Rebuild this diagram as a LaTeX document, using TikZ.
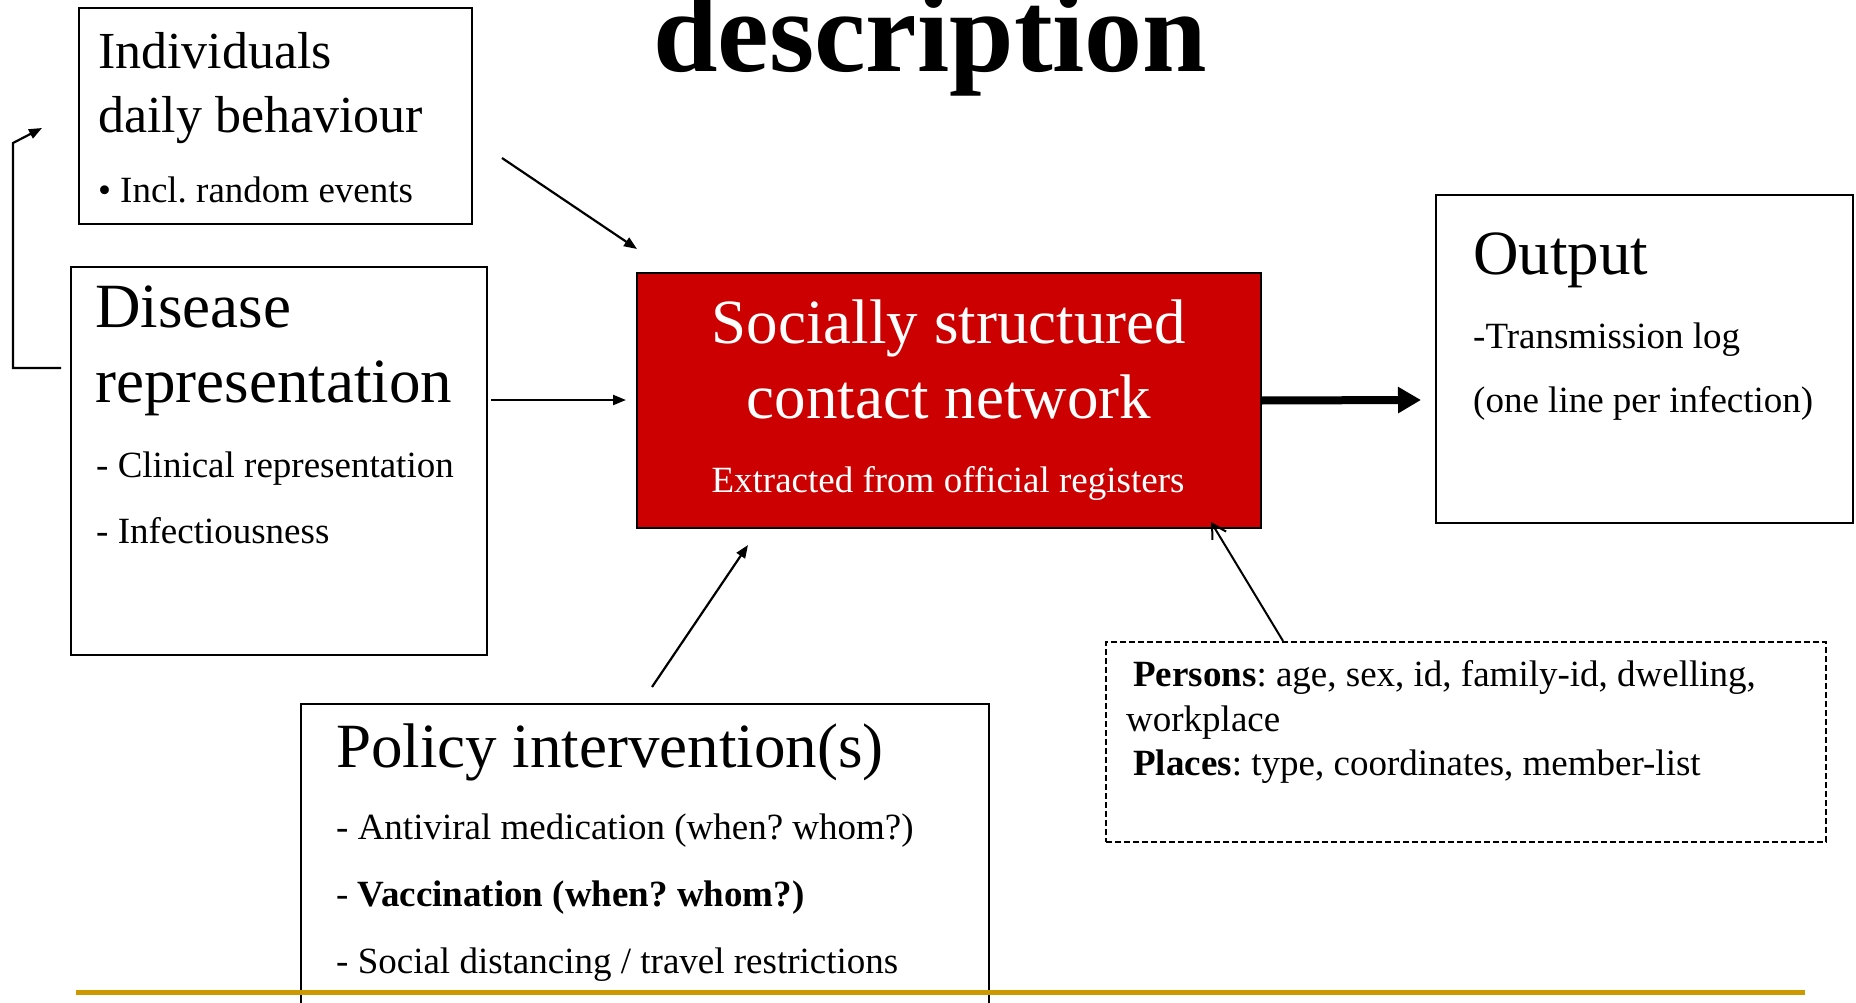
\documentclass[tikz,border=0pt]{standalone}
\usepackage{fontspec}
\setmainfont{Liberation Serif}
\usetikzlibrary{arrows.meta}
\definecolor{boxred}{RGB}{204,0,0}
\definecolor{rulegold}{RGB}{204,153,0}
\frenchspacing
\begin{document}
\frenchspacing
\begin{tikzpicture}[x=1pt,y=-1pt,
  box/.style={draw=black,line width=2pt,rectangle,inner sep=0pt,anchor=north west},
  txt/.style={inner sep=0pt,anchor=base west,text=black},
  ctxt/.style={inner sep=0pt,anchor=base,text=white},
  fhead/.style={font=\fontsize{63}{70}\selectfont},
  fmid/.style={font=\fontsize{52}{60}\selectfont},
  fsmall/.style={font=\fontsize{37}{44}\selectfont},
  arr/.style={line width=2.2pt,-{Triangle[length=13pt,width=10pt]}},
  openarr/.style={line width=2pt,-{Straight Barb[length=14pt,width=16pt]}},
  thickarr/.style={line width=8pt,-{Triangle[length=23pt,width=25pt]}}]
\clip (0,0) rectangle (1856,1003);
\useasboundingbox (0,0) rectangle (1856,1003);

% boxes
\node[box, minimum width=393pt, minimum height=216pt] (indiv) at (78,7) {};
\node[box, minimum width=416pt, minimum height=388pt] (disease) at (70,266) {};
\node[box, fill=boxred, minimum width=624pt, minimum height=255pt] (net) at (636,272) {};
\node[box, minimum width=417pt, minimum height=328pt] (output) at (1435,194) {};
\node[box, minimum width=688pt, minimum height=340pt] (policy) at (300,703) {};
\node[box, dash pattern=on 6pt off 3pt, minimum width=720pt, minimum height=200pt] (data) at (1105,641) {};

% title fragment
\node[txt, font=\fontsize{116}{120}\selectfont\bfseries] (title) at (653,72) {description};

% individuals
\node[txt, fmid] (indivA) at (98,69) {Individuals};
\node[txt, fmid] (indivB) at (98,133) {daily behaviour};
\node[txt, fsmall] (bullet) at (98,203) {•};
\node[txt, fsmall] (indivC) at (120,203) {Incl. random events};

% disease
\node[txt, fhead] (disA) at (95,327) {Disease};
\node[txt, fhead] (disB) at (95,402) {representation};
\node[txt, fsmall] (disC) at (96,477) {- Clinical representation};
\node[txt, fsmall] (disD) at (96,543) {- Infectiousness};

% network
\node[ctxt, fhead] (netA) at (949,343) {Socially structured};
\node[ctxt, fhead] (netB) at (949,418) {contact network};
\node[ctxt, fsmall] (netC) at (948,492) {Extracted from official registers};

% output
\node[txt, fhead] (outA) at (1473,275) {Output};
\node[txt, fsmall] (outB) at (1473,348) {-Transmission log};
\node[txt, fsmall] (outC) at (1473,412) {(one line per infection)};

% policy
\node[txt, fhead] (polA) at (336,767) {Policy intervention(s)};
\node[txt, fsmall] (polB) at (336,839) {- Antiviral medication (when? whom?)};
\node[txt, fsmall] (polC) at (336,906) {- \textbf{Vaccination (when? whom?)}};
\node[txt, fsmall] (polD) at (336,973) {- Social distancing / travel restrictions};

% data
\node[txt, fsmall] (datA) at (1133,686) {\textbf{Persons}: age, sex, id, family-id, dwelling,};
\node[txt, fsmall] (datB) at (1126,731) {workplace};
\node[txt, fsmall] (datC) at (1133,775) {\textbf{Places}: type, coordinates, member-list};

% connectors
\coordinate (loopS) at (61,368);
\coordinate (loopE) at (42,128);
\draw[arr] (loopS) -- (13,368) -- (13,143) -- (loopE);

\coordinate (indS) at (502,158);
\coordinate (indE) at (637,249);
\draw[arr] (indS) -- (indE);

\coordinate (disS) at (491,400);
\coordinate (disE) at (626,400);
\draw[arr] (disS) -- (disE);

\coordinate (polS) at (652,687);
\coordinate (polE) at (748,545);
\draw[arr] (polS) -- (polE);

\coordinate (datS) at (1283,641);
\coordinate (datE) at (1211,522);
\draw[openarr] (datS) -- (datE);

\coordinate (outE) at (1421,400);
\draw[thickarr] (net.east) -- (outE);

% footer rule
\draw[rulegold, line width=5pt] (76,992) -- (1805,992);
\end{tikzpicture}
\end{document}
